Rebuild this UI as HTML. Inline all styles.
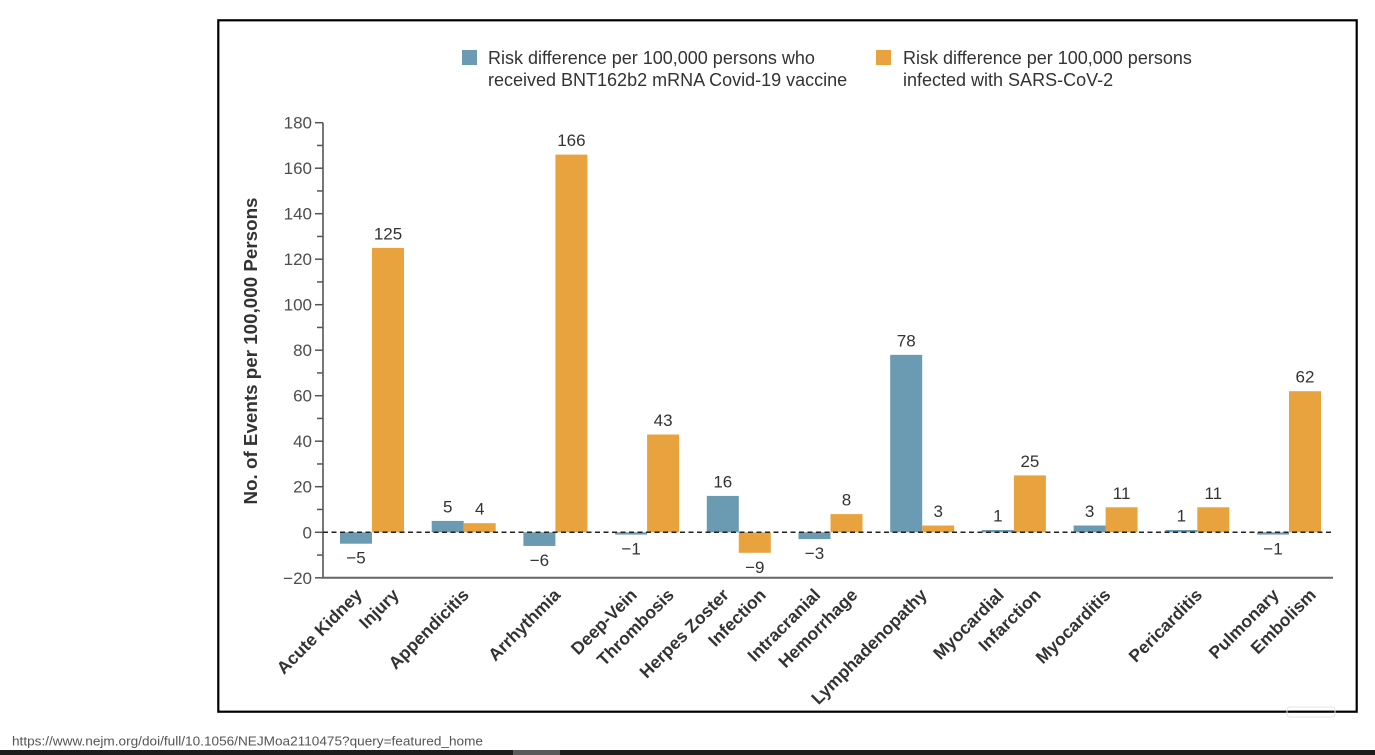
<!DOCTYPE html>
<html>
<head>
<meta charset="utf-8">
<style>
html,body{margin:0;padding:0;background:#fff;}
body{width:1375px;height:755px;overflow:hidden;position:relative;}
svg{position:absolute;left:0;top:0;}
.tick{font-family:"Liberation Sans",sans-serif;font-size:17px;fill:#4d4d4d;}
.val{font-family:"Liberation Sans",sans-serif;font-size:17px;fill:#333;text-anchor:middle;}
.cat{font-family:"Liberation Sans",sans-serif;font-size:17.5px;font-weight:bold;fill:#333;text-anchor:end;}
.leg{font-family:"Liberation Sans",sans-serif;font-size:18px;fill:#333;}
</style>
</head>
<body>
<svg width="1375" height="755" viewBox="0 0 1375 755" xmlns="http://www.w3.org/2000/svg">
  <!-- frame -->
  <rect x="218.3" y="20.3" width="1138.4" height="691.4" fill="#fff" stroke="#000" stroke-width="2.2"/>
  <rect x="1287" y="707" width="48" height="10" rx="3" fill="none" stroke="#e4e4e4" stroke-width="1"/>

  <!-- legend -->
  <rect x="462" y="50" width="15" height="15" fill="#6b9bb2"/>
  <text class="leg" x="488" y="64">Risk difference per 100,000 persons who</text>
  <text class="leg" x="488" y="86">received BNT162b2 mRNA Covid-19 vaccine</text>
  <rect x="876" y="50" width="15" height="15" fill="#e8a33e"/>
  <text class="leg" x="903" y="64">Risk difference per 100,000 persons</text>
  <text class="leg" x="903" y="86">infected with SARS-CoV-2</text>

  <!-- y axis title -->
  <text x="257" y="351" transform="rotate(-90 257 351)" text-anchor="middle" font-family="Liberation Sans, sans-serif" font-size="18.5" font-weight="bold" fill="#333" textLength="307" lengthAdjust="spacingAndGlyphs">No. of Events per 100,000 Persons</text>

  <!-- y axis -->
  <line x1="323" y1="122.7" x2="323" y2="578.5" stroke="#555" stroke-width="1.6"/>
  <g stroke="#555" stroke-width="1.5">
    <line x1="315" y1="122.7" x2="323" y2="122.7"/>
    <line x1="317" y1="145.45" x2="323" y2="145.45"/>
    <line x1="315" y1="168.2" x2="323" y2="168.2"/>
    <line x1="317" y1="190.95" x2="323" y2="190.95"/>
    <line x1="315" y1="213.7" x2="323" y2="213.7"/>
    <line x1="317" y1="236.45" x2="323" y2="236.45"/>
    <line x1="315" y1="259.2" x2="323" y2="259.2"/>
    <line x1="317" y1="281.95" x2="323" y2="281.95"/>
    <line x1="315" y1="304.7" x2="323" y2="304.7"/>
    <line x1="317" y1="327.45" x2="323" y2="327.45"/>
    <line x1="315" y1="350.2" x2="323" y2="350.2"/>
    <line x1="317" y1="372.95" x2="323" y2="372.95"/>
    <line x1="315" y1="395.7" x2="323" y2="395.7"/>
    <line x1="317" y1="418.45" x2="323" y2="418.45"/>
    <line x1="315" y1="441.2" x2="323" y2="441.2"/>
    <line x1="317" y1="463.95" x2="323" y2="463.95"/>
    <line x1="315" y1="486.7" x2="323" y2="486.7"/>
    <line x1="317" y1="509.45" x2="323" y2="509.45"/>
    <line x1="315" y1="532.3" x2="323" y2="532.3"/>
    <line x1="317" y1="555.05" x2="323" y2="555.05"/>
    <line x1="315" y1="577.8" x2="323" y2="577.8"/>
  </g>
  <g class="tick" text-anchor="end">
    <text x="312" y="128.7">180</text>
    <text x="312" y="174.2">160</text>
    <text x="312" y="219.7">140</text>
    <text x="312" y="265.2">120</text>
    <text x="312" y="310.7">100</text>
    <text x="312" y="356.2">80</text>
    <text x="312" y="401.7">60</text>
    <text x="312" y="447.2">40</text>
    <text x="312" y="492.7">20</text>
    <text x="312" y="538.3">0</text>
    <text x="312" y="583.8">−20</text>
  </g>

  <!-- x axis -->
  <line x1="322.2" y1="577.8" x2="1333" y2="577.8" stroke="#666" stroke-width="2"/>

  <!-- bars -->
  <g fill="#6b9bb2">
    <rect x="340" y="532.3" width="32" height="11.4"/>
    <rect x="431.7" y="520.9" width="32" height="11.4"/>
    <rect x="523.4" y="532.3" width="32" height="13.65"/>
    <rect x="615.1" y="532.3" width="32" height="2.3"/>
    <rect x="706.8" y="495.9" width="32" height="36.4"/>
    <rect x="798.5" y="532.3" width="32" height="6.8"/>
    <rect x="890.2" y="354.85" width="32" height="177.45"/>
    <rect x="981.9" y="530" width="32" height="2.3"/>
    <rect x="1073.6" y="525.5" width="32" height="6.8"/>
    <rect x="1165.3" y="530" width="32" height="2.3"/>
    <rect x="1257" y="532.3" width="32" height="2.3"/>
  </g>
  <g fill="#e8a33e">
    <rect x="372" y="247.9" width="32" height="284.4"/>
    <rect x="463.7" y="523.2" width="32" height="9.1"/>
    <rect x="555.4" y="154.6" width="32" height="377.7"/>
    <rect x="647.1" y="434.5" width="32" height="97.8"/>
    <rect x="738.8" y="532.3" width="32" height="20.5"/>
    <rect x="830.5" y="514.1" width="32" height="18.2"/>
    <rect x="922.2" y="525.5" width="32" height="6.8"/>
    <rect x="1013.9" y="475.4" width="32" height="56.9"/>
    <rect x="1105.6" y="507.3" width="32" height="25"/>
    <rect x="1197.3" y="507.3" width="32" height="25"/>
    <rect x="1289" y="391.2" width="32" height="141.1"/>
  </g>

  <!-- zero dashed line -->
  <line x1="323" y1="532.3" x2="1333" y2="532.3" stroke="#222" stroke-width="1.5" stroke-dasharray="5,3.5"/>

  <!-- value labels -->
  <g class="val">
    <text x="356" y="563.7">−5</text>
    <text x="388" y="239.4">125</text>
    <text x="447.7" y="512.4">5</text>
    <text x="479.7" y="514.7">4</text>
    <text x="539.4" y="566">−6</text>
    <text x="571.4" y="146.1">166</text>
    <text x="631.1" y="554.6">−1</text>
    <text x="663.1" y="426">43</text>
    <text x="722.8" y="487.4">16</text>
    <text x="754.8" y="572.8">−9</text>
    <text x="814.5" y="559.1">−3</text>
    <text x="846.5" y="505.6">8</text>
    <text x="906.2" y="346.4">78</text>
    <text x="938.2" y="517">3</text>
    <text x="997.9" y="521.5">1</text>
    <text x="1029.9" y="466.9">25</text>
    <text x="1089.6" y="517">3</text>
    <text x="1121.6" y="498.8">11</text>
    <text x="1181.3" y="521.5">1</text>
    <text x="1213.3" y="498.8">11</text>
    <text x="1273" y="554.6">−1</text>
    <text x="1305" y="382.7">62</text>
  </g>

  <!-- category labels -->
  <g class="cat">
    <text x="363" y="596" transform="rotate(-45 363 596)">Acute Kidney</text>
    <text x="400" y="596" transform="rotate(-45 400 596)">Injury</text>
    <text x="470" y="596" transform="rotate(-45 470 596)">Appendicitis</text>
    <text x="561.4" y="596" transform="rotate(-45 561.4 596)">Arrhythmia</text>
    <text x="638" y="596" transform="rotate(-45 638 596)">Deep-Vein</text>
    <text x="675" y="596" transform="rotate(-45 675 596)">Thrombosis</text>
    <text x="730" y="596" transform="rotate(-45 730 596)">Herpes Zoster</text>
    <text x="767" y="596" transform="rotate(-45 767 596)">Infection</text>
    <text x="821.5" y="596" transform="rotate(-45 821.5 596)">Intracranial</text>
    <text x="858.5" y="596" transform="rotate(-45 858.5 596)">Hemorrhage</text>
    <text x="928" y="596" transform="rotate(-45 928 596)">Lymphadenopathy</text>
    <text x="1005" y="596" transform="rotate(-45 1005 596)">Myocardial</text>
    <text x="1042" y="596" transform="rotate(-45 1042 596)">Infarction</text>
    <text x="1111.6" y="596" transform="rotate(-45 1111.6 596)">Myocarditis</text>
    <text x="1203.3" y="596" transform="rotate(-45 1203.3 596)">Pericarditis</text>
    <text x="1280" y="596" transform="rotate(-45 1280 596)">Pulmonary</text>
    <text x="1317" y="596" transform="rotate(-45 1317 596)">Embolism</text>
  </g>

  <!-- URL footer -->
  <text x="12" y="745.5" font-family="Liberation Sans, sans-serif" font-size="13" fill="#555" textLength="471" lengthAdjust="spacingAndGlyphs">https://www.nejm.org/doi/full/10.1056/NEJMoa2110475?query=featured_home</text>

  <!-- bottom dark bar -->
  <rect x="0" y="750" width="1375" height="5" fill="#1c1c1c"/>
  <rect x="513" y="750" width="47" height="5" fill="#5a5a5a"/>
</svg>
</body>
</html>
